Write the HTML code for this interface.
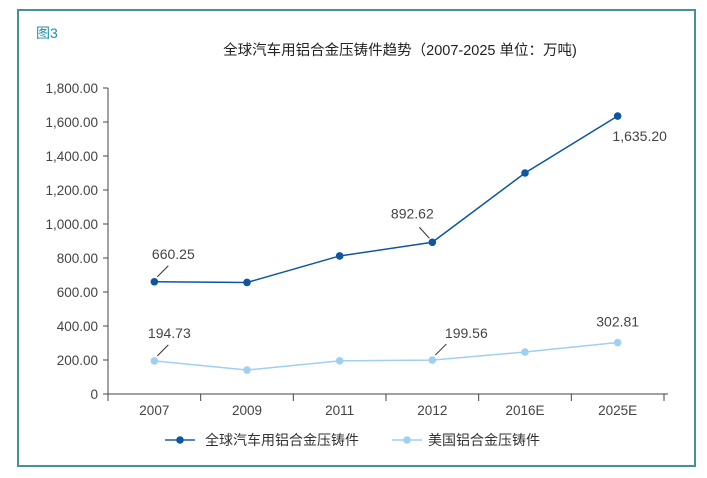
<!DOCTYPE html>
<html><head><meta charset="utf-8">
<style>
body{margin:0;background:#fff;}
svg{display:block;font-family:"Liberation Sans Narrow","Liberation Sans","Noto Sans CJK SC",sans-serif;}
.cjk{font-family:"Liberation Sans","Noto Sans CJK SC",sans-serif;}
</style></head><body>
<svg id="chart" width="707" height="478" viewBox="0 0 707 478">
<rect x="18" y="10" width="677" height="456" fill="#fff" stroke="#4a8f96" stroke-width="2"/>
<text x="36" y="38" font-size="14" fill="#1f8fa8" class="cjk">图3</text>
<text x="400" y="55" font-size="14.5" fill="#222" text-anchor="middle" class="cjk">全球汽车用铝合金压铸件趋势（2007-2025 单位：万吨)</text>
<g id="axes"></g>
<g id="marks"></g>
<g>
<g>
<line x1="165" y1="440" x2="195" y2="440" stroke="#1f5fa6" stroke-width="1.5"/>
<circle cx="180" cy="440" r="3.8" fill="#0d56a0"/>
<text x="205" y="445" font-size="14" fill="#333" class="cjk">全球汽车用铝合金压铸件</text>
</g>
<g>
<line x1="392" y1="440" x2="422" y2="440" stroke="#9fd0f2" stroke-width="1.5"/>
<circle cx="407" cy="440" r="3.8" fill="#9fd0f2"/>
<text x="428" y="445" font-size="14" fill="#333" class="cjk">美国铝合金压铸件</text>
</g>
</g>
</svg>
<script>
const categories=["2007","2009","2011","2012","2016E","2025E"];
const globalValues=[660.25,656,812,892.62,1300,1635.20];
const usaValues=[194.73,141,195,199.56,247,302.81];
const yTicks=[0,200,400,600,800,1000,1200,1400,1600,1800];
const yTickLabels=["0","200.00","400.00","600.00","800.00","1,000.00","1,200.00","1,400.00","1,600.00","1,800.00"];
const globalLabels=[{i:0,t:"660.25"},{i:3,t:"892.62"},{i:5,t:"1,635.20"}];
const usaLabels=[{i:0,t:"194.73"},{i:3,t:"199.56"},{i:5,t:"302.81"}];

const NS="http://www.w3.org/2000/svg";
const X0=108,X1=664,Y0=394,Y1=88,YMAX=1800;
const bw=(X1-X0)/categories.length;
function xs(i){return X0+bw*(i+0.5);}
function ys(v){return Y0-(v/YMAX)*(Y0-Y1);}
function mk(tag,attrs,parent){const e=document.createElementNS(NS,tag);for(const k in attrs)e.setAttribute(k,attrs[k]);parent.appendChild(e);return e;}
const axes=document.getElementById('axes'),marks=document.getElementById('marks');
let a=mk('line',{x1:X0,y1:Y1,x2:X0,y2:Y0,stroke:'#444','stroke-width':1},axes);


a=mk('line',{x1:X0,y1:Y0,x2:X1+4,y2:Y0,stroke:'#444','stroke-width':1},axes);


yTicks.forEach((v,i)=>{
 const y=ys(v);
 const t=mk('line',{x1:X0-5,y1:y,x2:X0,y2:y,stroke:'#444'},axes);
 
 
 const l=mk('text',{x:X0-10,y:y+5,'font-size':13.5,fill:'#444','text-anchor':'end'},axes);
 l.textContent=yTickLabels[i];
 
 
});
for(let i=0;i<=categories.length;i++){
 const x=X0+bw*i;
 const t=mk('line',{x1:x,y1:Y0,x2:x,y2:Y0+7,stroke:'#444'},axes);
 
 
}
categories.forEach((c,i)=>{
 const l=mk('text',{x:xs(i),y:Y0+21,'font-size':13.5,fill:'#444','text-anchor':'middle'},axes);
 l.textContent=c;
 
 
});
function series(vals,color,name){
 const p=mk('polyline',{points:vals.map((v,i)=>xs(i)+','+ys(v)).join(' '),fill:'none',stroke:color,'stroke-width':1.5},marks);
 
 
 vals.forEach((v,i)=>{
  const c=mk('circle',{cx:xs(i),cy:ys(v),r:3.8,fill:color},marks);
  
  
 });
}
series(globalValues,'#0d56a0','global');
series(usaValues,'#9fd0f2','usa');
function labels(arr,vals,name){
 arr.forEach(o=>{
  const x=xs(o.i),y=ys(vals[o.i]);
  let tx=x,ty=y-27;
  if(o.i===5&&name==='global'){tx=x+22;ty=y+25;}
  else if(o.i===5){ty=y-16;}
  else if(o.i===3&&name==='global'){
   const ln=mk('line',{x1:x-3,y1:y-4,x2:x-13,y2:y-15,stroke:'#333','stroke-width':1},marks);
   
   
   tx=x-20;ty=y-24;
  }
  else{
   const ln=mk('line',{x1:x+3,y1:y-5,x2:x+14,y2:y-16,stroke:'#333','stroke-width':1},marks);
   
   
   if(o.i===0){tx=x+(name==='global'?19:15);ty=y-23;}
   else{tx=x+34;ty=y-22;}
  }
  const t=mk('text',{x:tx,y:ty,'font-size':14,fill:'#444','text-anchor':'middle'},marks);
  t.textContent=o.t;
  
  
 });
}
labels(globalLabels,globalValues,'global');
labels(usaLabels,usaValues,'usa');
</script>
</body></html>
